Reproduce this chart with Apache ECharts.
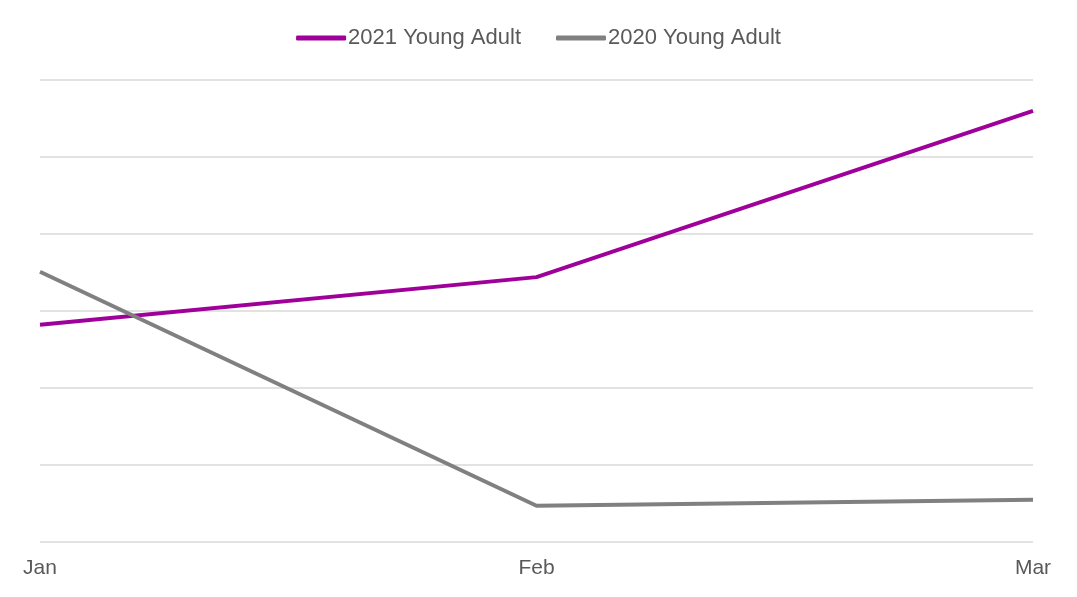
<!DOCTYPE html>
<html>
<head>
<meta charset="utf-8">
<script src="https://cdn.jsdelivr.net/npm/echarts@6/dist/echarts.min.js"></script>
<style>
  html, body { margin: 0; padding: 0; background: #fff; }
  #chart { width: 1077px; height: 597px; }
</style>
</head>
<body>
<div id="chart"></div>
<script>
// Mois affichés sur l'axe horizontal
const months = ["Jan", "Feb", "Mar"];

// Valeurs (échelle 0 à 6)
const youngAdult2021 = [2.82, 3.44, 5.6];
const youngAdult2020 = [3.51, 0.47, 0.55];

const chart = echarts.init(document.getElementById("chart"));

const option = {
  backgroundColor: "#ffffff",
  textStyle: { fontFamily: "Liberation Sans, Arial, sans-serif" },
  legend: {
    top: 22,
    left: "center",
    itemWidth: 50,
    itemHeight: 5,
    itemGap: 35,
    icon: "roundRect",
    textStyle: { color: "#595959", fontSize: 22, padding: [0, 0, 0, -3] },
    data: ["2021 Young Adult", "2020 Young Adult"],
  },
  grid: { left: 40, right: 44, top: 80, bottom: 55 },
  xAxis: {
    type: "category",
    data: months,
    boundaryGap: false,
    axisLine: { show: false },
    axisTick: { show: false },
    axisLabel: { color: "#595959", fontSize: 21, margin: 16 },
  },
  yAxis: {
    type: "value",
    min: 0,
    max: 6,
    interval: 1,
    axisLabel: { show: false },
    axisLine: { show: false },
    axisTick: { show: false },
    splitLine: { lineStyle: { color: "#d9d9d9", width: 1.5 } },
  },
  series: [
    {
      name: "2021 Young Adult",
      type: "line",
      data: youngAdult2021,
      symbol: "none",
      lineStyle: { color: "#a0009a", width: 4 },
      itemStyle: { color: "#a0009a" },
    },
    {
      name: "2020 Young Adult",
      type: "line",
      data: youngAdult2020,
      symbol: "none",
      lineStyle: { color: "#808080", width: 4 },
      itemStyle: { color: "#808080" },
    },
  ],
};

chart.setOption(option);
</script>
</body>
</html>
